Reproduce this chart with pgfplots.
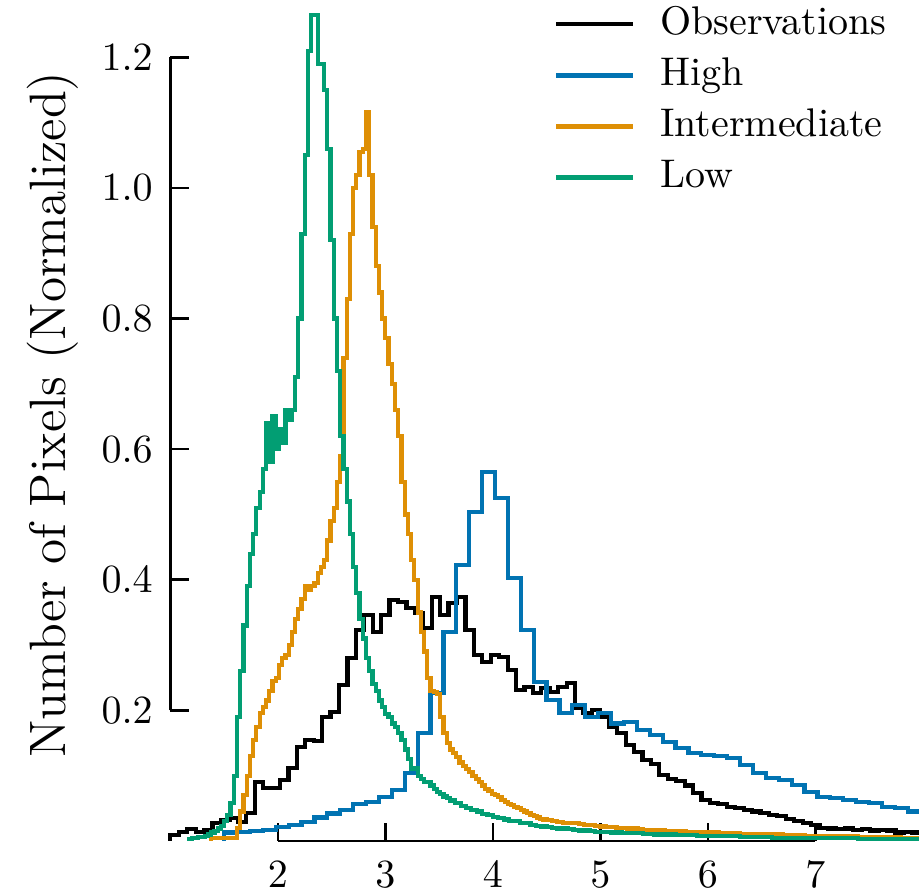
\documentclass[border=0pt]{standalone}
\usepackage{pgfplots}
\pgfplotsset{compat=1.18}
\definecolor{cbBlue}{HTML}{0173B2}
\definecolor{cbOrange}{HTML}{DE8F05}
\definecolor{cbGreen}{HTML}{029E73}
\begin{document}
\begin{tikzpicture}
\begin{axis}[
  scale only axis,
  width=187.15pt, height=210.25pt,
  xmin=1, xmax=7.9646, ymin=0, ymax=1.2879,
  clip=false,
  axis x line*=bottom, axis y line*=left,
  axis line style={draw=none},
  tick align=inside,
  major tick length=4.6pt,
  tick style={black, line width=0.65pt},
  xtick={2,3,4,5,6,7},
  ytick={0.2,0.4,0.6,0.8,1.0,1.2},
  yticklabel style={/pgf/number format/fixed, /pgf/number format/fixed zerofill, /pgf/number format/precision=1, xshift=-0.9pt},
  xticklabel style={yshift=-1.6pt},
  ylabel={Number of Pixels (Normalized)},
  ylabel style={at={(axis description cs:-0.1575,0.507)}, anchor=center, font=\fontsize{12.8}{15}\selectfont},
  legend style={draw=none, fill=none, at={(axis cs:4.562,1.2915)}, anchor=north west,
    inner xsep=0pt, inner ysep=0pt, font=\fontsize{10}{12}\selectfont,
    nodes={inner sep=1.9pt, text height=7pt, text depth=2pt},
    /tikz/every odd column/.append style={column sep=4.2pt}},
  legend cell align=left,
  legend image code/.code={\draw[#1, line width=1.2pt] (0pt,0pt) -- (19.25pt,0pt);},
  every axis plot/.append style={line width=1.05pt, line join=miter},
]
% Observations
\addplot[black, const plot mark left] coordinates {
(1.0000,0) (1.0000,0.009) (1.0784,0.014) (1.1569,0.018) (1.2353,0.014) (1.3137,0.016)
(1.3922,0.028) (1.4706,0.032) (1.5490,0.035) (1.6275,0.029) (1.7059,0.043)
(1.7843,0.090) (1.8627,0.081) (1.9412,0.081) (2.0196,0.093) (2.0980,0.112)
(2.1765,0.144) (2.2549,0.155) (2.3333,0.153) (2.4118,0.190) (2.4902,0.198)
(2.5686,0.239) (2.6471,0.280) (2.7255,0.323) (2.8039,0.346) (2.8824,0.320)
(2.9608,0.346) (3.0392,0.369) (3.1176,0.366) (3.1961,0.357) (3.2745,0.349)
(3.3529,0.326) (3.4314,0.374) (3.5098,0.346) (3.5882,0.364) (3.6667,0.374)
(3.7451,0.323) (3.8235,0.285) (3.9020,0.274) (3.9804,0.285) (4.0588,0.282)
(4.1373,0.262) (4.2157,0.231) (4.2941,0.236) (4.3725,0.227) (4.4510,0.234)
(4.5294,0.228) (4.6078,0.236) (4.6863,0.242) (4.7647,0.204) (4.8431,0.196)
(4.9216,0.200) (5.0000,0.190) (5.0784,0.175) (5.1569,0.165) (5.2353,0.147)
(5.3137,0.136) (5.3922,0.124) (5.4706,0.118) (5.5490,0.101) (5.6275,0.095)
(5.7059,0.092) (5.7843,0.085) (5.8627,0.073) (5.9412,0.063) (6.0196,0.058)
(6.0980,0.057) (6.1765,0.052) (6.2549,0.050) (6.3333,0.047) (6.4118,0.045)
(6.4902,0.043) (6.5686,0.040) (6.6471,0.038) (6.7255,0.034) (6.8039,0.031)
(6.8824,0.028) (6.9608,0.025) (7.0392,0.020) (7.1176,0.019) (7.1961,0.018)
(7.2745,0.019) (7.3529,0.017) (7.4314,0.018) (7.5098,0.016) (7.5882,0.017)
(7.6667,0.016) (7.7451,0.013) (7.8235,0.014) (7.9020,0.013) (7.9804,0)
};
\addlegendentry{Observations}
% High
\addplot[cbBlue, const plot mark left] coordinates {
(1.50,0) (1.50,0.013) (1.62,0.014) (1.74,0.015) (1.86,0.017) (1.98,0.021)
(2.10,0.025) (2.22,0.029) (2.34,0.036) (2.46,0.042) (2.58,0.048) (2.70,0.056)
(2.82,0.060) (2.94,0.067) (3.06,0.078) (3.18,0.104) (3.30,0.165) (3.42,0.227)
(3.54,0.320) (3.66,0.423) (3.78,0.504) (3.90,0.565) (4.02,0.525) (4.14,0.403)
(4.26,0.323) (4.38,0.243) (4.50,0.216) (4.62,0.196) (4.74,0.208) (4.86,0.190)
(4.98,0.196) (5.10,0.180) (5.22,0.182) (5.34,0.170) (5.46,0.162) (5.58,0.152)
(5.70,0.142) (5.82,0.135) (5.94,0.132) (6.06,0.130) (6.18,0.127) (6.30,0.116)
(6.42,0.104) (6.54,0.096) (6.66,0.093) (6.78,0.086) (6.90,0.075) (7.02,0.067)
(7.14,0.066) (7.26,0.063) (7.38,0.060) (7.50,0.058) (7.62,0.052) (7.74,0.050)
(7.86,0.045) (7.98,0.043) (8.10,0)
};
\addlegendentry{High}
% Intermediate
\addplot[cbOrange, const plot mark left] coordinates {
(1.38,0) (1.38,0.004) (1.47,0.005) (1.56,0.005) (1.62,0.020) (1.65,0.045) (1.68,0.070)
(1.71,0.100) (1.74,0.130) (1.77,0.155) (1.80,0.175) (1.83,0.196) (1.86,0.205)
(1.89,0.215) (1.92,0.230) (1.95,0.245) (1.98,0.250) (2.01,0.270) (2.04,0.280)
(2.07,0.285) (2.10,0.300) (2.13,0.320) (2.16,0.340) (2.19,0.355) (2.22,0.370)
(2.25,0.390) (2.28,0.385) (2.31,0.390) (2.34,0.395) (2.37,0.410) (2.40,0.420)
(2.43,0.430) (2.46,0.460) (2.49,0.490) (2.52,0.510) (2.55,0.550) (2.58,0.590)
(2.61,0.740) (2.64,0.830) (2.67,0.930) (2.70,1.000) (2.73,1.020) (2.76,1.055)
(2.79,1.060) (2.82,1.116) (2.85,1.020) (2.88,0.940) (2.91,0.880) (2.94,0.840)
(2.97,0.800) (3.00,0.770) (3.03,0.730) (3.06,0.700) (3.09,0.660) (3.12,0.620)
(3.15,0.550) (3.18,0.500) (3.21,0.470) (3.24,0.430) (3.27,0.400) (3.30,0.350)
(3.33,0.320) (3.36,0.290) (3.39,0.250) (3.42,0.230) (3.45,0.228) (3.48,0.225)
(3.51,0.190) (3.54,0.165) (3.57,0.150) (3.60,0.140) (3.63,0.135) (3.66,0.128)
(3.69,0.120) (3.72,0.115) (3.75,0.110) (3.78,0.105) (3.81,0.100) (3.84,0.095)
(3.87,0.090) (3.90,0.085) (3.93,0.080) (3.96,0.077) (3.99,0.072) (4.02,0.070)
(4.05,0.067) (4.08,0.063) (4.11,0.060) (4.14,0.057) (4.17,0.055) (4.20,0.052)
(4.23,0.050) (4.26,0.047) (4.29,0.045) (4.32,0.043) (4.35,0.040) (4.38,0.038)
(4.41,0.036) (4.44,0.034) (4.47,0.033) (4.50,0.032) (4.55,0.030) (4.60,0.029)
(4.65,0.028) (4.70,0.027) (4.75,0.027) (4.80,0.026) (4.85,0.025) (4.90,0.024)
(4.95,0.023) (5.00,0.022) (5.05,0.021) (5.10,0.021) (5.15,0.020) (5.20,0.020)
(5.25,0.019) (5.30,0.019) (5.35,0.018) (5.40,0.017) (5.45,0.017) (5.50,0.016)
(5.60,0.015) (5.70,0.015) (5.80,0.014) (5.90,0.014) (6.00,0.013) (6.10,0.012)
(6.20,0.012) (6.30,0.011) (6.40,0.011) (6.50,0.010) (6.60,0.010) (6.70,0.009)
(6.80,0.009) (6.90,0.008) (7.00,0.008) (7.20,0.007) (7.40,0.006) (7.60,0.006)
(7.80,0.005) (8.00,0)
};
\addlegendentry{Intermediate}
% Low
\addplot[cbGreen, const plot mark left] coordinates {
(1.17,0) (1.17,0.003) (1.20,0.004) (1.23,0.005) (1.26,0.006) (1.29,0.006)
(1.32,0.008) (1.35,0.010) (1.38,0.013) (1.41,0.015) (1.44,0.019) (1.47,0.023)
(1.50,0.030) (1.53,0.040) (1.56,0.058) (1.59,0.100) (1.62,0.190) (1.65,0.260)
(1.68,0.330) (1.71,0.390) (1.74,0.440) (1.77,0.470) (1.80,0.510) (1.83,0.535)
(1.86,0.570) (1.89,0.640) (1.92,0.580) (1.95,0.650) (1.98,0.600) (2.01,0.630)
(2.04,0.610) (2.07,0.660) (2.10,0.645) (2.13,0.660) (2.16,0.710) (2.19,0.800)
(2.22,0.930) (2.25,1.050) (2.28,1.210) (2.31,1.265) (2.34,1.265) (2.37,1.190)
(2.40,1.190) (2.43,1.150) (2.46,1.060) (2.49,0.920) (2.52,0.800) (2.55,0.720)
(2.58,0.620) (2.61,0.570) (2.64,0.520) (2.67,0.470) (2.70,0.420) (2.73,0.380)
(2.76,0.340) (2.79,0.310) (2.82,0.280) (2.85,0.260) (2.88,0.240) (2.91,0.230)
(2.94,0.215) (2.97,0.205) (3.00,0.195) (3.03,0.190) (3.06,0.180) (3.09,0.175)
(3.12,0.165) (3.15,0.155) (3.18,0.140) (3.21,0.125) (3.24,0.110) (3.27,0.112)
(3.30,0.100) (3.33,0.095) (3.36,0.090) (3.39,0.090) (3.42,0.085) (3.45,0.080)
(3.48,0.075) (3.51,0.072) (3.54,0.068) (3.57,0.066) (3.60,0.062) (3.65,0.058)
(3.70,0.053) (3.75,0.050) (3.80,0.047) (3.85,0.045) (3.90,0.041) (3.95,0.040)
(4.00,0.037) (4.05,0.035) (4.10,0.033) (4.15,0.031) (4.20,0.030) (4.25,0.028)
(4.30,0.027) (4.35,0.024) (4.40,0.023) (4.45,0.022) (4.50,0.021) (4.55,0.020)
(4.60,0.019) (4.65,0.019) (4.70,0.018) (4.75,0.017) (4.80,0.016) (4.85,0.016)
(4.90,0.015) (4.95,0.014) (5.00,0.014) (5.10,0.013) (5.20,0.012) (5.30,0.012)
(5.40,0.011) (5.50,0.010) (5.60,0.010) (5.70,0.009) (5.80,0.009) (5.90,0.008)
(6.00,0.008) (6.10,0.007) (6.20,0.007) (6.30,0.006) (6.40,0.006) (6.50,0.006)
(6.60,0.005) (6.70,0.005) (6.80,0.005) (6.90,0.004) (7.00,0.004) (7.20,0.004)
(7.40,0.003) (7.60,0.003) (7.80,0.003) (8.00,0)
};
\addlegendentry{Low}
\draw[black, line width=0.65pt] (axis cs:2,0) -- (axis cs:7,0);
\draw[black, line width=0.65pt] (axis cs:1,0.2) -- (axis cs:1,1.2);
\end{axis}
\pgfresetboundingbox
\path[use as bounding box] ([xshift=-42.6pt,yshift=-13.75pt]current axis.south west) rectangle (current axis.north east);
\end{tikzpicture}
\end{document}
